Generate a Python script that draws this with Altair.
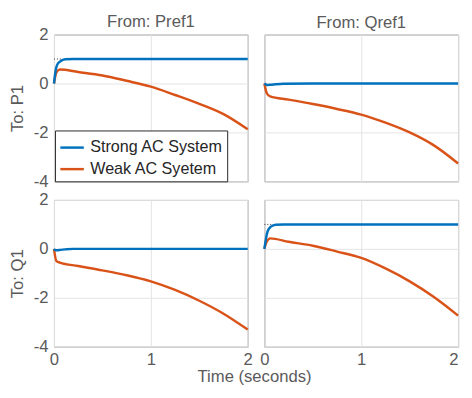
import altair as alt
import pandas as pd

FONT = "Liberation Sans"
AXIS_GRAY = "#5a5a5a"
FS = 17

systems = ["Strong AC System", "Weak AC Syetem"]
colors = ["#0072BD", "#D95319"]

# Strong AC system responses
t_strong = [0, 0.017, 0.033, 0.067, 0.117, 0.2, 0.5, 1.0, 1.5, 2.0]
strong_pref1_p1 = [0, 0.53, 0.77, 0.91, 0.99, 1.0, 1.0, 1.0, 1.0, 1.0]
strong_qref1_p1 = [0, -0.04, -0.06, -0.05, -0.03, -0.01, 0, 0, 0, 0]
strong_pref1_q1 = [0, -0.06, -0.06, -0.04, -0.02, 0, 0, 0, 0, 0]
strong_qref1_q1 = [0, 0.43, 0.71, 0.91, 0.99, 1.0, 1.0, 1.0, 1.0, 1.0]

# Weak AC system responses
t_weak = [0, 0.025, 0.06, 0.25, 0.5, 0.75, 1.0, 1.25, 1.5, 1.75, 2.0]
weak_pref1_p1 = [0, 0.45, 0.57, 0.47, 0.33, 0.11, -0.13, -0.47, -0.83, -1.25, -1.87]
weak_qref1_p1 = [0, -0.4, -0.53, -0.66, -0.84, -1.04, -1.27, -1.6, -2.0, -2.53, -3.27]
weak_pref1_q1 = [0, -0.5, -0.56, -0.7, -0.88, -1.08, -1.33, -1.68, -2.12, -2.65, -3.3]
weak_qref1_q1 = [0, 0.3, 0.43, 0.29, 0.13, -0.11, -0.37, -0.8, -1.33, -1.97, -2.73]

# steady-state markers (dotted) for the diagonal channels
ss_panels = [("Pref1", "P1"), ("Qref1", "Q1")]
ss_value = [1.0, 1.0]
ss_t_end = [0.08, 0.08]

x_ticks = [0, 1, 2]
y_ticks = [-4, -2, 0, 2]

series = {
    ("Pref1", "P1"): (strong_pref1_p1, weak_pref1_p1),
    ("Qref1", "P1"): (strong_qref1_p1, weak_qref1_p1),
    ("Pref1", "Q1"): (strong_pref1_q1, weak_pref1_q1),
    ("Qref1", "Q1"): (strong_qref1_q1, weak_qref1_q1),
}

rows = []
for (src, dst), (s_vals, w_vals) in series.items():
    for t, v in zip(t_weak, w_vals):
        rows.append({"src": src, "dst": dst, "system": systems[1], "t": t, "v": v})
    for t, v in zip(t_strong, s_vals):
        rows.append({"src": src, "dst": dst, "system": systems[0], "t": t, "v": v})
df = pd.DataFrame(rows)

ss_df = pd.DataFrame(
    [{"src": p[0], "dst": p[1], "t0": 0, "t1": te, "v": val}
     for p, val, te in zip(ss_panels, ss_value, ss_t_end)]
)


def panel(src, dst, show_x, show_y, with_legend, top_title, title_offset, last_right=False):
    d = df[(df.src == src) & (df.dst == dst)]
    x_kw = dict(values=x_ticks, labels=show_x, grid=True, ticks=False, domain=False,
                labelFontSize=FS, labelFont=FONT, labelColor=AXIS_GRAY, labelPadding=5,
                labelExpr="datum.value", labelOverlap=False, labelFlush=False,
                gridColor="#e3e3e3", title=None)
    if last_right:
        x_kw["labelAlign"] = {"expr": "datum.value == 2 ? 'right' : 'center'"}
    x_axis = alt.Axis(**x_kw)
    if show_y:
        y_axis = alt.Axis(values=y_ticks, labels=True, grid=True, ticks=False, domain=False,
                          labelFontSize=FS, labelFont=FONT, labelColor=AXIS_GRAY, labelPadding=6,
                          labelExpr="datum.value", labelOverlap=False, gridColor="#e3e3e3",
                          title=f"To: {dst}", titleFontSize=FS, titleFont=FONT,
                          titleFontWeight="normal", titleColor=AXIS_GRAY, titlePadding=7)
    else:
        y_axis = alt.Axis(values=y_ticks, labels=False, grid=True, ticks=False, domain=False,
                          gridColor="#e3e3e3", title=None)
    x = alt.X("t:Q", scale=alt.Scale(domain=[0, 2], nice=False, zero=False), axis=x_axis)
    y = alt.Y("v:Q", scale=alt.Scale(domain=[-4, 2], nice=False, zero=False), axis=y_axis)
    if with_legend:
        leg = alt.Legend(title=None, orient="none", legendX=1, legendY=98,
                         symbolType="stroke", symbolSize=576, symbolStrokeWidth=2.5,
                         labelFontSize=16.5, labelFont=FONT, labelColor="#262626",
                         labelOffset=5, padding=4, rowPadding=-4, fillColor="white",
                         strokeColor="#262626", labelLimit=400)
    else:
        leg = None
    color = alt.Color("system:N", scale=alt.Scale(domain=systems, range=colors), legend=leg)
    base = alt.Chart(d)
    weak = base.transform_filter(alt.datum.system == systems[1]).mark_line(
        strokeWidth=2.5, interpolate="monotone").encode(x=x, y=y, color=color)
    strong = base.transform_filter(alt.datum.system == systems[0]).mark_line(
        strokeWidth=2.5, interpolate="monotone").encode(x=x, y=y, color=color)
    layers = [weak, strong]
    sd = ss_df[(ss_df.src == src) & (ss_df.dst == dst)]
    if len(sd):
        rule = alt.Chart(sd).mark_rule(color="#333333", strokeWidth=1, strokeDash=[1, 2]).encode(
            x=alt.X("t0:Q"), x2="t1:Q", y=alt.Y("v:Q"))
        layers = [rule] + layers
    ch = alt.layer(*layers).properties(width=198, height=150)
    if top_title:
        ch = ch.properties(title=alt.TitleParams(top_title, fontSize=FS, font=FONT,
                                                 fontWeight="normal", color=AXIS_GRAY,
                                                 offset=title_offset))
    return ch


tl = panel("Pref1", "P1", False, True, True, "From: Pref1", -5)
tr = panel("Qref1", "P1", False, False, False, "From: Qref1", 3)
bl = panel("Pref1", "Q1", True, True, False, None, 0)
br = panel("Qref1", "Q1", True, False, False, None, 0, last_right=True)

chart = alt.concat(tl, tr, bl, br, columns=2, spacing={"row": 0, "column": 5}).resolve_legend(
    color="independent"
).properties(
    title=alt.TitleParams("Time (seconds)", orient="bottom", anchor="middle", fontSize=FS,
                          font=FONT, fontWeight="normal", color=AXIS_GRAY, offset=2, dx=19),
    padding={"left": 0, "top": 0, "right": 0, "bottom": -3}, background="white"
).configure_view(stroke="#808080", strokeWidth=1)

chart.save("out.html", embed_options={"renderer": "svg", "actions": False})
